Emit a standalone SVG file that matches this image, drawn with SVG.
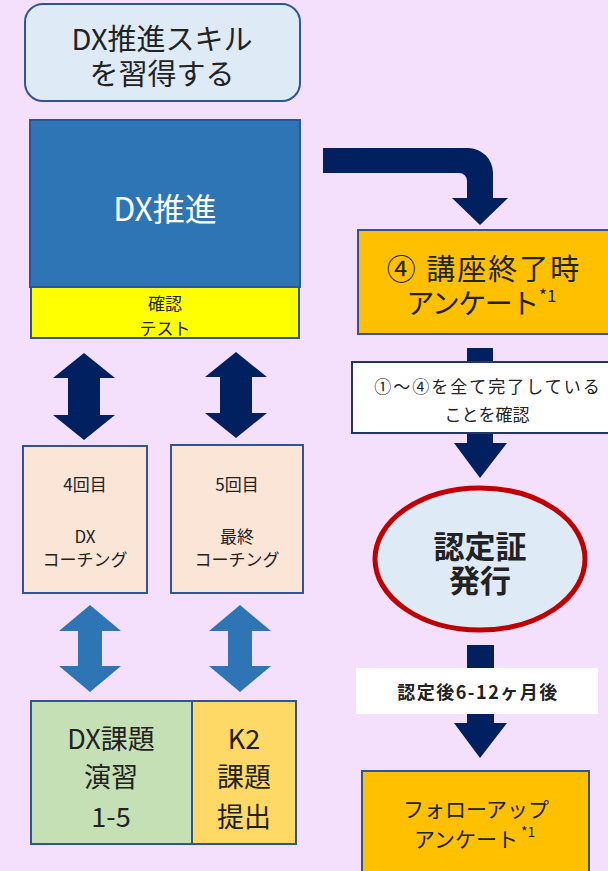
<svg xmlns="http://www.w3.org/2000/svg" width="608" height="871" viewBox="0 0 608 871">
<style>
text{font-family:"Noto Sans CJK JP","Noto Sans",sans-serif;fill:#222;text-anchor:middle;dominant-baseline:central}
.bx{stroke:#2F5597;stroke-width:2}
.navy{fill:#002060}
.blue{fill:#2E75B6}
</style>
<rect width="608" height="871" fill="#F4DFFC"/>
<g id="connectors">
<path class="navy" d="M84,353 L115,378 H100 V415 H115 L84,440 L53,415 H68 V378 H53 Z"/>
<path class="navy" d="M236,352 L267,377 H252 V413 H267 L236,438 L205,413 H220 V377 H205 Z"/>
<path class="blue" d="M90,605 L121,631 H102 V666 H121 L90,692 L59,666 H78 V631 H59 Z"/>
<path class="blue" d="M240,605 L271,631 H252 V666 H271 L240,692 L209,666 H228 V631 H209 Z"/>
<path class="navy" d="M323,148 H468 A25,25 0 0 1 493,173 V198 H508 L480,225 L452,198 H467 V181 A8,8 0 0 0 459,173 H323 Z"/>
<rect class="navy" x="467" y="348" width="26" height="20"/>
<path class="navy" d="M467,430 H493 V443 H507 L480,478 L454,443 H467 Z"/>
<rect class="navy" x="467" y="645" width="27" height="26"/>
<path class="navy" d="M467,712 H494 V723 H507 L480,758 L454,723 H467 Z"/>
</g>
<g id="goal">
<rect class="bx" x="25" y="4" width="275" height="97" rx="18" fill="#DEEAF6"/>
<text x="162" y="37" font-size="29">DX推進スキル</text>
<text x="162" y="72" font-size="29">を習得する</text>
</g>
<g id="dx">
<rect class="bx" x="30" y="120" width="270" height="167" fill="#2E75B6"/>
<text x="165" y="207" font-size="32" style="fill:#fff">DX推進</text>
</g>
<g id="test">
<rect class="bx" x="31" y="287" width="268" height="51" fill="#FFFF00"/>
<text x="165" y="302" font-size="17">確認</text>
<text x="165" y="327" font-size="17">テスト</text>
</g>
<g id="coach4">
<rect class="bx" x="23" y="446" width="124" height="147" fill="#FBE5D6"/>
<text x="85" y="483" font-size="17">4回目</text>
<text x="85" y="535" font-size="17">DX</text>
<text x="85" y="558" font-size="17">コーチング</text>
</g>
<g id="coach5">
<rect class="bx" x="171" y="445" width="132" height="148" fill="#FBE5D6"/>
<text x="237" y="483" font-size="17">5回目</text>
<text x="237" y="535" font-size="17">最終</text>
<text x="237" y="558" font-size="17">コーチング</text>
</g>
<g id="exercise">
<rect class="bx" x="31" y="701" width="161" height="143" fill="#C5E0B4"/>
<text x="111" y="737" font-size="27">DX課題</text>
<text x="111" y="775" font-size="27">演習</text>
<text x="111" y="815" font-size="27">1-5</text>
</g>
<g id="k2">
<rect class="bx" x="192" y="701" width="104" height="143" fill="#FFD966"/>
<text x="244" y="737" font-size="27">K2</text>
<text x="244" y="775" font-size="27">課題</text>
<text x="244" y="815" font-size="27">提出</text>
</g>
<g id="survey">
<rect class="bx" x="358" y="230" width="256" height="104" fill="#FFC000"/>
<text x="484" y="267" font-size="29" letter-spacing="2">④ 講座終了時</text>
<text x="472" y="302" font-size="28" letter-spacing="-1.5">アンケート</text>
<text x="539" y="294" font-size="17" style="text-anchor:start">*1</text>
</g>
<g id="check">
<rect x="352" y="362" width="262" height="71" fill="#fff" stroke="#1F3864" stroke-width="2"/>
<text x="488" y="385" font-size="17" letter-spacing="2">①～④を全て完了している</text>
<text x="487" y="413" font-size="17">ことを確認</text>
</g>
<g id="cert">
<ellipse cx="480" cy="559" rx="105" ry="71" fill="#DEEBF7" stroke="#C00000" stroke-width="5"/>
<text x="480" y="544" font-size="31" font-weight="bold">認定証</text>
<text x="480" y="578" font-size="31" font-weight="bold">発行</text>
</g>
<g id="after">
<rect x="356" y="668" width="242" height="46" fill="#fff"/>
<text x="478" y="691" font-size="18" font-weight="bold" letter-spacing="1.5">認定後6-12ヶ月後</text>
</g>
<g id="followup">
<rect class="bx" x="362" y="771" width="227" height="110" fill="#FFC000"/>
<text x="476" y="808" font-size="21">フォローアップ</text>
<text x="466" y="838" font-size="21">アンケート</text>
<text x="521" y="831" font-size="14" style="text-anchor:start">*1</text>
</g>
</svg>
